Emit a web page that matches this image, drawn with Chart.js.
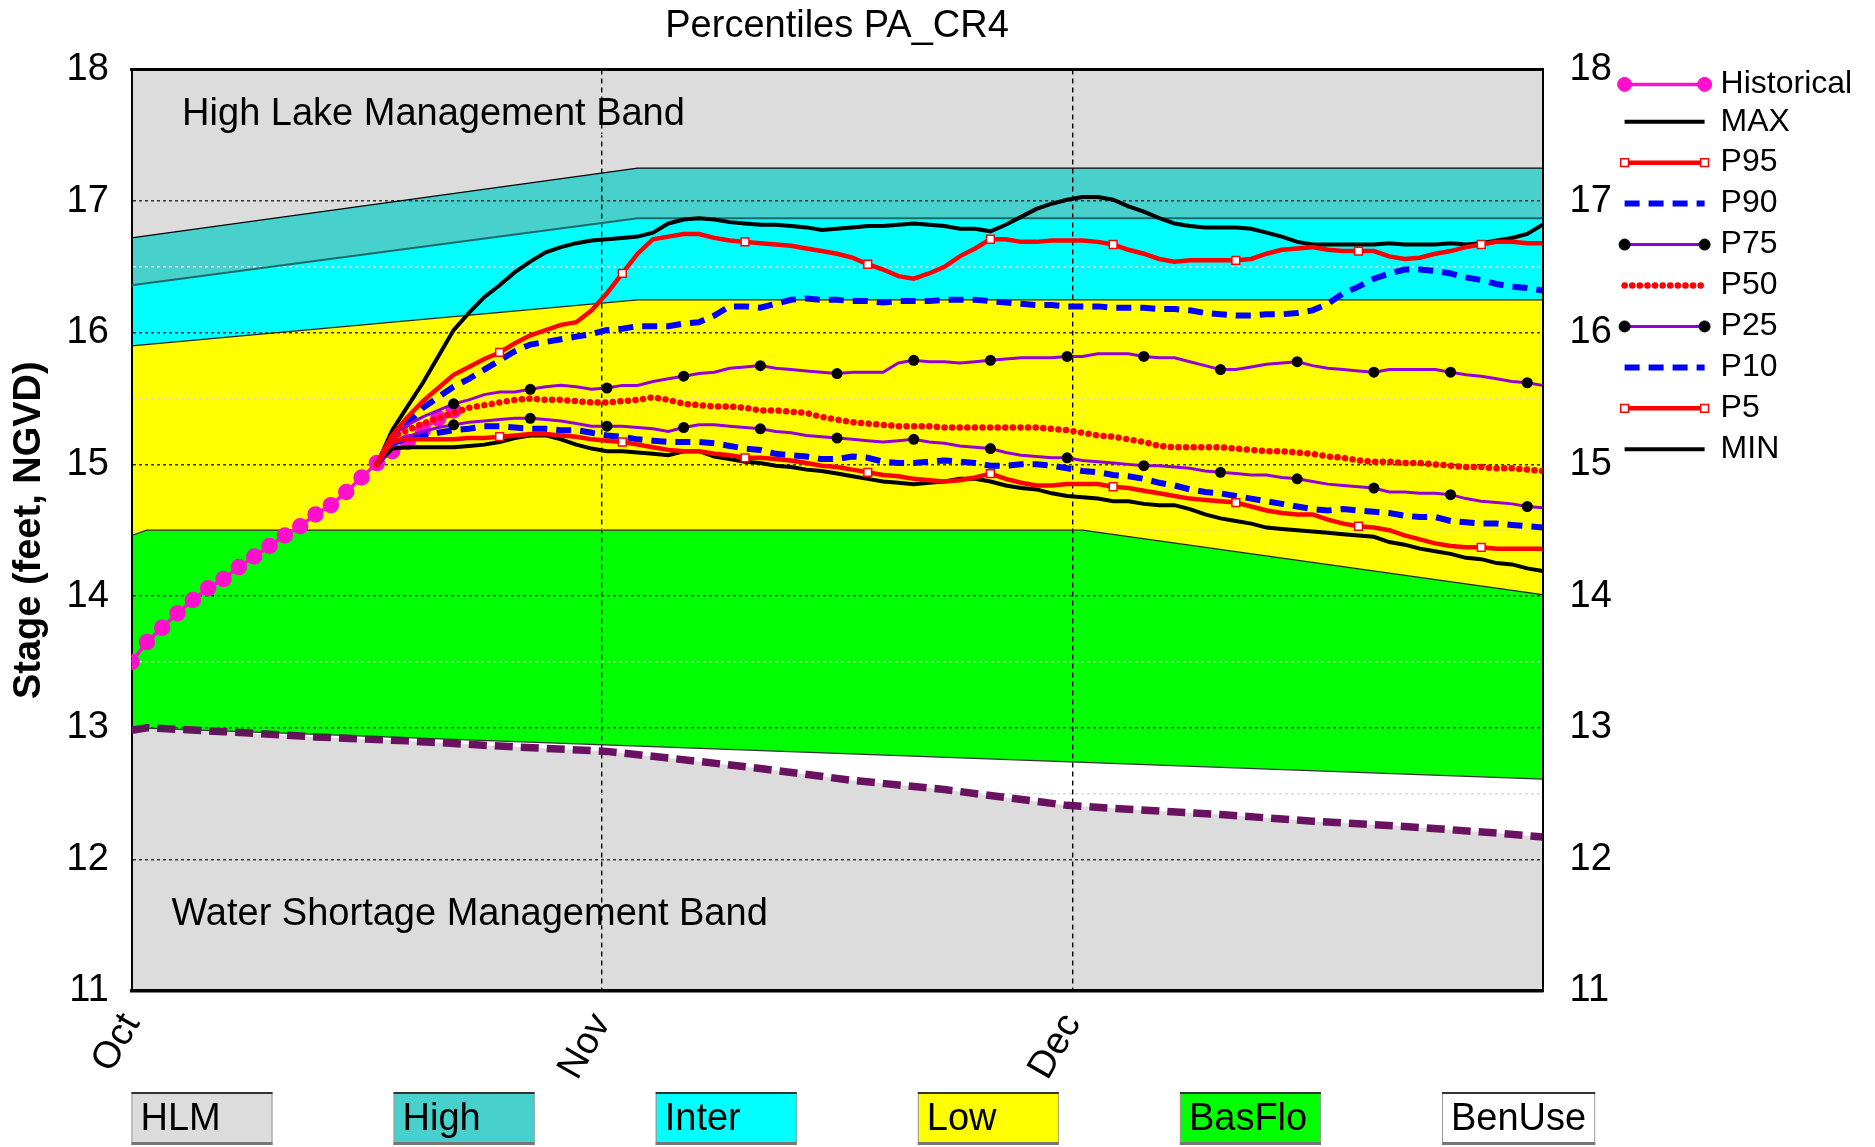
<!DOCTYPE html>
<html>
<head>
<meta charset="utf-8">
<title>Percentiles PA_CR4</title>
<script src="https://cdn.jsdelivr.net/npm/chart.js@4/dist/chart.umd.min.js"></script>
<style>
  html, body { margin: 0; padding: 0; background: #fff; }
  #wrap { width: 1875px; height: 1147px; position: relative; }
</style>
</head>
<body>
<div id="wrap"><canvas id="stageChart"></canvas></div>
<script>
// x is day of the Oct-Dec window, month ticks sit at equal thirds
const monthLabels = ['Oct', 'Nov', 'Dec'];
const monthTicks = [0, 30.667, 61.333];

const histDays = [0,1,2,3,4,5,6,7,8,9,10,11,12,13,14,15,16,17,18,19,20,21];
const historical = [13.50,13.65,13.76,13.87,13.97,14.06,14.13,14.22,14.30,14.38,14.46,
  14.53,14.62,14.69,14.79,14.90,15.01,15.10,15.17,15.26,15.35,15.41];

const pctDays = [16,17,18,19,20,21,22,23,24,25,26,27,28,29,30,31,32,33,34,35,36,37,38,39,40,
  41,42,43,44,45,46,47,48,49,50,51,52,53,54,55,56,57,58,59,60,61,62,63,64,65,66,67,68,69,70,
  71,72,73,74,75,76,77,78,79,80,81,82,83,84,85,86,87,88,89,90,91,92];

const maxStage = [15.00,15.26,15.44,15.62,15.82,16.02,16.15,16.27,16.36,16.46,
  16.54,16.61,16.65,16.68,16.70,16.71,16.72,16.73,16.76,16.83,
  16.86,16.87,16.86,16.84,16.83,16.82,16.82,16.81,16.80,16.78,
  16.79,16.80,16.81,16.81,16.82,16.83,16.82,16.81,16.79,16.79,
  16.77,16.82,16.88,16.94,16.98,17.01,17.03,17.03,17.01,16.96,
  16.92,16.87,16.83,16.81,16.80,16.80,16.80,16.79,16.76,16.73,
  16.69,16.67,16.67,16.67,16.67,16.67,16.68,16.67,16.67,16.67,
  16.68,16.67,16.68,16.70,16.72,16.75,16.82];
const p95 = [15.00,15.22,15.36,15.48,15.58,15.68,15.74,15.80,15.85,15.92,
  15.98,16.02,16.06,16.08,16.17,16.30,16.45,16.60,16.71,16.73,
  16.75,16.75,16.72,16.70,16.69,16.68,16.67,16.66,16.64,16.62,
  16.60,16.57,16.52,16.48,16.43,16.41,16.45,16.50,16.58,16.64,
  16.71,16.71,16.69,16.69,16.70,16.70,16.70,16.69,16.67,16.63,
  16.60,16.56,16.54,16.55,16.55,16.55,16.55,16.56,16.60,16.63,
  16.64,16.65,16.63,16.62,16.62,16.62,16.58,16.56,16.57,16.60,
  16.62,16.65,16.67,16.69,16.69,16.68,16.68];
const p90 = [15.00,15.20,15.31,15.43,15.51,15.59,15.65,15.72,15.79,15.86,
  15.91,15.93,15.95,15.97,15.99,16.02,16.03,16.05,16.05,16.05,
  16.07,16.08,16.13,16.20,16.20,16.19,16.22,16.25,16.26,16.25,
  16.25,16.24,16.24,16.23,16.24,16.24,16.24,16.25,16.25,16.25,
  16.24,16.23,16.22,16.21,16.21,16.20,16.20,16.20,16.19,16.19,
  16.19,16.18,16.18,16.17,16.15,16.14,16.13,16.13,16.14,16.14,
  16.15,16.17,16.22,16.30,16.35,16.41,16.45,16.48,16.48,16.47,
  16.45,16.42,16.40,16.37,16.35,16.34,16.32];
const p75 = [15.00,15.22,15.30,15.36,15.41,15.46,15.49,15.53,15.55,15.55,
  15.57,15.59,15.60,15.59,15.57,15.58,15.60,15.60,15.63,15.65,
  15.67,15.69,15.70,15.73,15.74,15.75,15.73,15.72,15.71,15.70,
  15.69,15.70,15.70,15.70,15.77,15.79,15.78,15.78,15.77,15.78,
  15.79,15.80,15.81,15.81,15.81,15.82,15.82,15.84,15.84,15.84,
  15.82,15.81,15.81,15.78,15.75,15.72,15.72,15.74,15.76,15.77,
  15.78,15.75,15.73,15.72,15.71,15.70,15.72,15.72,15.72,15.72,
  15.70,15.68,15.67,15.65,15.63,15.62,15.60];
const p50 = [15.00,15.21,15.26,15.31,15.35,15.39,15.43,15.45,15.47,15.49,
  15.50,15.49,15.49,15.48,15.47,15.47,15.48,15.49,15.51,15.49,
  15.46,15.45,15.44,15.44,15.43,15.41,15.41,15.40,15.39,15.36,
  15.34,15.32,15.31,15.30,15.29,15.29,15.29,15.28,15.28,15.28,
  15.28,15.28,15.28,15.28,15.27,15.26,15.24,15.22,15.21,15.19,
  15.17,15.14,15.13,15.13,15.13,15.13,15.12,15.11,15.10,15.10,
  15.09,15.08,15.06,15.05,15.03,15.02,15.02,15.01,15.01,15.00,
  14.99,14.98,14.98,14.97,14.97,14.96,14.95];
const p25 = [15.00,15.16,15.21,15.25,15.28,15.30,15.32,15.33,15.34,15.35,
  15.35,15.34,15.33,15.31,15.29,15.29,15.29,15.28,15.27,15.25,
  15.28,15.30,15.30,15.29,15.28,15.27,15.25,15.24,15.22,15.21,
  15.20,15.19,15.18,15.17,15.18,15.19,15.17,15.16,15.14,15.13,
  15.12,15.09,15.07,15.06,15.05,15.05,15.03,15.02,15.01,15.00,
  14.99,14.99,14.98,14.97,14.95,14.94,14.93,14.92,14.92,14.90,
  14.89,14.87,14.85,14.84,14.83,14.82,14.79,14.79,14.78,14.78,
  14.77,14.74,14.72,14.71,14.70,14.68,14.67];
const p10 = [15.00,15.16,15.20,15.22,15.24,15.26,15.27,15.29,15.29,15.28,
  15.27,15.27,15.26,15.26,15.24,15.22,15.21,15.19,15.18,15.17,
  15.17,15.17,15.16,15.14,15.12,15.11,15.08,15.07,15.06,15.04,
  15.04,15.06,15.05,15.02,15.01,15.01,15.02,15.03,15.02,15.01,
  14.99,14.99,15.00,15.00,14.99,14.97,14.95,14.94,14.92,14.91,
  14.89,14.86,14.84,14.81,14.79,14.78,14.76,14.74,14.72,14.70,
  14.68,14.66,14.65,14.66,14.65,14.64,14.63,14.61,14.60,14.60,
  14.57,14.56,14.55,14.55,14.54,14.53,14.52];
const p5 = [15.00,15.18,15.19,15.19,15.19,15.19,15.20,15.20,15.21,15.22,
  15.23,15.23,15.22,15.21,15.19,15.18,15.17,15.15,15.13,15.11,
  15.10,15.10,15.08,15.07,15.05,15.05,15.04,15.03,15.01,14.99,
  14.98,14.96,14.94,14.92,14.91,14.89,14.88,14.87,14.88,14.90,
  14.93,14.89,14.86,14.84,14.84,14.85,14.85,14.85,14.83,14.82,
  14.80,14.78,14.76,14.74,14.73,14.72,14.71,14.68,14.65,14.63,
  14.62,14.62,14.58,14.55,14.53,14.52,14.50,14.46,14.43,14.40,
  14.38,14.37,14.37,14.36,14.36,14.36,14.36];
const minStage = [15.00,15.12,15.13,15.13,15.13,15.13,15.14,15.15,15.17,15.20,
  15.22,15.22,15.19,15.15,15.12,15.10,15.10,15.09,15.08,15.07,
  15.10,15.10,15.06,15.04,15.02,15.01,14.99,14.98,14.96,14.95,
  14.93,14.91,14.89,14.87,14.86,14.85,14.86,14.87,14.89,14.89,
  14.87,14.84,14.82,14.81,14.78,14.76,14.75,14.74,14.72,14.72,
  14.70,14.69,14.69,14.66,14.62,14.59,14.57,14.55,14.52,14.51,
  14.50,14.49,14.48,14.47,14.46,14.45,14.41,14.39,14.36,14.34,
  14.32,14.29,14.28,14.25,14.24,14.21,14.19];

// management band edges
const bandNames = ['HLM', 'High', 'Inter', 'Low', 'BasFlo', 'BenUse'];
const bandColors = ['#dcdcdc', '#48d1cc', '#00ffff', '#ffff00', '#00ff00', '#ffffff'];
const edgeDays = [0, 33, 92];
const hlmEdge = [16.72, 17.25, 17.25];
const highEdge = [16.36, 16.87, 16.87];
const interEdge = [15.90, 16.25, 16.25];
const lowDays = [0, 1, 62, 92];
const lowEdge = [14.46, 14.50, 14.50, 14.01];
const basDays = [0, 92];
const basEdge = [13.00, 12.61];
const wsmDays = [0, 1, 6, 12, 18, 24, 31, 35, 41, 47, 53, 59, 61, 65, 71, 77, 83, 89, 92];
const wsmEdge = [12.98, 13.00, 12.97, 12.93, 12.90, 12.86, 12.82, 12.77, 12.69, 12.60,
  12.53, 12.44, 12.41, 12.38, 12.34, 12.29, 12.25, 12.20, 12.17];

const legendOrder = ['Historical', 'MAX', 'P95', 'P90', 'P75', 'P50', 'P25', 'P10', 'P5', 'MIN'];
const notes = [
  {text: 'High Lake Management Band', day: 3.3, stage: 17.58},
  {text: 'Water Shortage Management Band', day: 2.6, stage: 11.50}
];

const FONT = "'Liberation Sans', Arial, sans-serif";
Chart.defaults.font.family = FONT;
Chart.defaults.color = '#000';

const pts = (xs, ys) => ys.map((y, i) => ({x: xs[i], y: y}));
// marker on every n-th day after the start of the forecast
const every = (n, r) => (c) => {
  const d = pctDays[c.dataIndex];
  return d > 16 && (d - 16) % n === 0 ? r : 0;
};
const line = (label, ys, color, width, extra) => Object.assign({
  label: label, data: pts(pctDays, ys), borderColor: color, backgroundColor: color,
  borderWidth: width, pointRadius: 0, fill: false
}, extra || {});

const squares = {pointStyle: 'rect', pointRadius: every(8, 5.5), pointBackgroundColor: '#fff',
  pointBorderColor: '#ff0000', pointBorderWidth: 1.5, legendR: 5.5};
const dots = {pointStyle: 'circle', pointRadius: every(5, 5.5), pointBackgroundColor: '#000',
  pointBorderColor: '#000', pointBorderWidth: 0, legendR: 5.5};
const dashes = {borderDash: [15, 9]};

const datasets = [
  line('P95', p95, '#ff0000', 4.5, squares),
  line('P5', p5, '#ff0000', 4.5, squares),
  line('P75', p75, '#9400d3', 3, dots),
  line('P25', p25, '#9400d3', 3, dots),
  line('P50', p50, '#ff0000', 6.5, {borderDash: [0.1, 7.5], borderCapStyle: 'round'}),
  line('P90', p90, '#0000ff', 6, dashes),
  line('P10', p10, '#0000ff', 6, dashes),
  line('MAX', maxStage, '#000000', 4),
  line('MIN', minStage, '#000000', 4),
  {label: 'Historical', data: pts(histDays, historical), borderColor: '#ff10cc', borderWidth: 3.5,
    pointRadius: 6.5, pointBackgroundColor: '#ff10cc', pointBorderColor: '#ff10cc', fill: false, legendR: 7},
  {label: 'HLM', data: pts(edgeDays, hlmEdge), borderColor: '#000', borderWidth: 1.2,
    pointRadius: 0, fill: 'end', backgroundColor: bandColors[0]},
  {label: 'High', data: pts(edgeDays, highEdge), borderColor: '#1d6b68', borderWidth: 2,
    pointRadius: 0, fill: '-1', backgroundColor: bandColors[1]},
  {label: 'Inter', data: pts(edgeDays, interEdge), borderColor: '#222', borderWidth: 1.2,
    pointRadius: 0, fill: '-1', backgroundColor: bandColors[2]},
  {label: 'Low', data: pts(lowDays, lowEdge), borderColor: '#222', borderWidth: 1.2,
    pointRadius: 0, fill: '-1', backgroundColor: bandColors[3]},
  {label: 'BasFlo', data: pts(basDays, basEdge), borderColor: '#333', borderWidth: 1.2,
    pointRadius: 0, fill: '-1', backgroundColor: bandColors[4]},
  {label: 'WSM', data: pts(wsmDays, wsmEdge), borderColor: '#6a1162', borderWidth: 7.5,
    borderDash: [18, 8], pointRadius: 0, fill: 'start', backgroundColor: '#dcdcdc'}
];

const decorations = {
  id: 'decorations',
  beforeDatasetsDraw(chart) {
    const {ctx, scales} = chart;
    ctx.save();
    ctx.font = '38px ' + FONT;
    ctx.fillStyle = '#000';
    ctx.textBaseline = 'alphabetic';
    notes.forEach(n => {
      ctx.fillText(n.text, scales.x.getPixelForValue(n.day), scales.y.getPixelForValue(n.stage));
    });
    ctx.restore();
  },
  afterDraw(chart) {
    const {ctx, chartArea} = chart;
    // series legend on the right
    const x0 = chartArea.right + 82, x1 = x0 + 80;
    legendOrder.forEach((name, i) => {
      const ds = chart.data.datasets.find(d => d.label === name);
      const y = chartArea.top + (i === 0 ? 15 : 52.3 + (i - 1) * 40.95);
      ctx.save();
      ctx.strokeStyle = ds.borderColor;
      ctx.lineWidth = ds.borderWidth;
      ctx.lineCap = ds.borderCapStyle || 'butt';
      ctx.setLineDash(ds.borderDash || []);
      ctx.beginPath();
      ctx.moveTo(x0, y);
      ctx.lineTo(x1, y);
      ctx.stroke();
      ctx.setLineDash([]);
      if (ds.legendR) {
        ctx.fillStyle = ds.pointBackgroundColor;
        ctx.strokeStyle = ds.pointBorderColor;
        ctx.lineWidth = ds.pointBorderWidth || 1;
        [x0, x1].forEach(px => Chart.helpers.drawPoint(ctx, {
          pointStyle: ds.pointStyle || 'circle', radius: ds.legendR,
          borderWidth: ds.pointBorderWidth || 1, rotation: 0}, px, y));
      }
      ctx.fillStyle = '#000';
      ctx.font = '32px ' + FONT;
      ctx.textBaseline = 'middle';
      ctx.textAlign = 'left';
      ctx.fillText(name, x1 + 16, y);
      ctx.restore();
    });
    // band colour key along the bottom
    ctx.save();
    ctx.font = '38px ' + FONT;
    ctx.textBaseline = 'middle';
    bandNames.forEach((name, i) => {
      const bx = chartArea.left + i * 262.1, by = chartArea.bottom + 101, bh = 53;
      const bw = Math.max(141, ctx.measureText(name).width + 18);
      ctx.fillStyle = bandColors[i];
      ctx.fillRect(bx, by, bw, bh);
      ctx.strokeStyle = '#999';
      ctx.lineWidth = 1;
      ctx.strokeRect(bx + 0.5, by + 0.5, bw - 1, bh - 1);
      ctx.fillStyle = '#333';
      ctx.fillRect(bx, by, bw, 2);
      ctx.fillStyle = '#777';
      ctx.fillRect(bx, by + bh - 3, bw, 3);
      ctx.fillStyle = '#000';
      ctx.fillText(name, bx + 9, by + bh / 2 + 1);
    });
    ctx.restore();
  }
};

new Chart(document.getElementById('stageChart'), {
  type: 'line',
  data: {datasets: datasets},
  plugins: [decorations],
  options: {
    responsive: true,
    maintainAspectRatio: false,
    animation: false,
    events: [],
    devicePixelRatio: 1,
    layout: {padding: {left: 0, right: 262, top: 0, bottom: 0}},
    elements: {line: {tension: 0}},
    plugins: {
      legend: {display: false},
      tooltip: {enabled: false},
      filler: {drawTime: 'beforeDraw'},
      title: {
        display: true, text: 'Percentiles PA_CR4', fullSize: false,
        font: {size: 38, weight: 'normal'}, color: '#000',
        padding: {top: 4, bottom: 19.8}
      }
    },
    scales: {
      x: {
        type: 'linear', position: 'bottom', min: 0, max: 92,
        afterBuildTicks: s => { s.ticks = monthTicks.map(v => ({value: v})); },
        afterFit: s => { s.height = 156; },
        ticks: {
          callback: (v, i) => monthLabels[i],
          font: {size: 38}, color: '#000', padding: 15,
          minRotation: 60, maxRotation: 60, autoSkip: false
        },
        grid: {
          drawTicks: false, lineWidth: 1.4,
          color: c => (c.tick && c.tick.value === 0 ? 'rgba(0,0,0,0)' : '#000')
        },
        border: {display: true, color: '#000', width: 3.5, dash: [5, 4]}
      },
      x2: {
        type: 'linear', position: 'top', min: 0, max: 92,
        afterFit: s => { s.height = 0; },
        ticks: {display: false},
        grid: {display: false, drawTicks: false},
        border: {display: true, color: '#000', width: 3}
      },
      y: {
        type: 'linear', position: 'left', min: 11, max: 18,
        afterFit: s => { s.width = 131.5; },
        ticks: {
          stepSize: 0.5, autoSkip: false, font: {size: 38}, color: '#000', padding: 22.7,
          callback: v => (Number.isInteger(v) ? String(v) : '')
        },
        grid: {
          drawTicks: false, lineWidth: 1.5,
          color: c => (c.tick && Number.isInteger(c.tick.value) ? '#333' : '#dcdcdc')
        },
        border: {display: true, color: '#000', width: 2, dash: [3, 3]},
        title: {
          display: true, text: 'Stage (feet, NGVD)', color: '#000',
          font: {size: 38, weight: 'bold'}, padding: {top: 7, bottom: 0}
        }
      },
      y2: {
        type: 'linear', position: 'right', min: 11, max: 18,
        afterFit: s => { s.width = 70.4; },
        ticks: {stepSize: 1, font: {size: 38}, color: '#000', padding: 27},
        grid: {display: false, drawTicks: false},
        border: {display: true, color: '#000', width: 2}
      }
    }
  }
});
</script>
</body>
</html>
